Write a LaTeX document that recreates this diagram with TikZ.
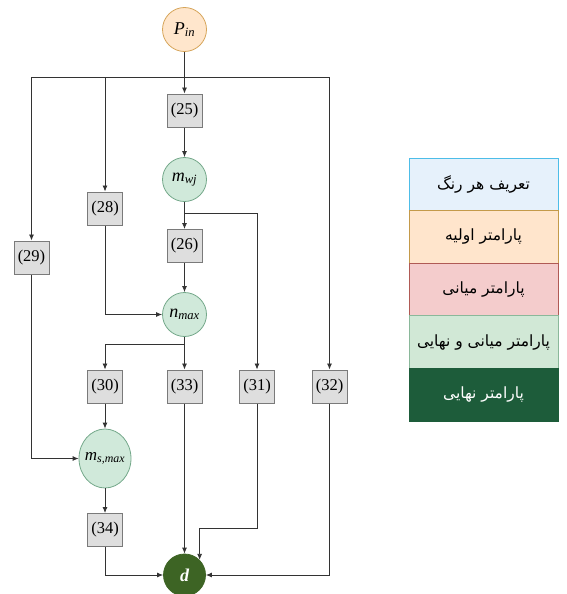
\documentclass[tikz,border=0pt]{standalone}
\usepackage{fontspec}
\setmainfont{Liberation Serif}
\newfontfamily\arabicfont[Script=Arabic]{DejaVu Sans}
\TeXXeTstate=1
\usetikzlibrary{arrows.meta,shapes.geometric}
\definecolor{boxfill}{HTML}{DEDEDE}
\definecolor{boxline}{HTML}{7A7A7A}
\definecolor{linec}{HTML}{333333}
\definecolor{orfill}{HTML}{FFE6CC}
\definecolor{orline}{HTML}{D6A55A}
\definecolor{grfill}{HTML}{D0E9DA}
\definecolor{grline}{HTML}{74A88A}
\definecolor{dkfill}{HTML}{3D6424}
\definecolor{l1fill}{HTML}{E6F1FB}
\definecolor{l1line}{HTML}{4DBDE8}
\definecolor{l2fill}{HTML}{FFE5CC}
\definecolor{l2line}{HTML}{C49A4A}
\definecolor{l3fill}{HTML}{F4CCCC}
\definecolor{l3line}{HTML}{B05A55}
\definecolor{l4fill}{HTML}{D1E8D6}
\definecolor{l4line}{HTML}{8AB89A}
\definecolor{l5fill}{HTML}{1D5C3A}
\tikzset{
  eqbox/.style={draw=boxline, fill=boxfill, line width=1pt, minimum width=35pt, minimum height=33pt, inner sep=0pt, font=\fontsize{16.5}{16.5}\selectfont},
  varc/.style={circle, draw=grline, fill=grfill, line width=0.8pt, minimum size=44pt, inner sep=0pt, font=\fontsize{18}{18}\selectfont\itshape},
  arr/.style={draw=linec, line width=0.8pt, -{Latex[length=6pt,width=5pt]}},
  legrow/.style={line width=0.8pt, minimum width=149pt, minimum height=52.6pt, inner sep=0pt, font=\arabicfont\fontsize{15.5}{15.5}\selectfont}
}
\begin{document}
\begin{tikzpicture}[x=1pt,y=-1pt]
\useasboundingbox (0,0) rectangle (567,594);
% nodes
\node[varc, draw=orline, fill=orfill] (pin) at (184.5,29.5) {P\textsubscript{in}};
\node[eqbox] (e25) at (184.5,110.5) {(25)};
\node[varc] (mwj) at (184.5,179.5) {m\textsubscript{wj}};
\node[eqbox] (e28) at (105,208.5) {(28)};
\node[eqbox] (e29) at (31.5,257.5) {(29)};
\node[eqbox] (e26) at (184.5,246) {(26)};
\node[varc] (nmax) at (184.5,314.5) {n\textsubscript{max}};
\node[eqbox] (e30) at (105,386.5) {(30)};
\node[eqbox] (e33) at (184.5,386.5) {(33)};
\node[eqbox] (e31) at (257,386.5) {(31)};
\node[eqbox] (e32) at (329.5,386.5) {(32)};
\node[varc, ellipse, inner xsep=-5pt, minimum width=52pt, minimum height=59pt, font=\fontsize{17}{17}\selectfont\itshape] (ms) at (105,458.5) {m\textsubscript{s,max}};
\node[eqbox] (e34) at (105,530) {(34)};
\node[varc, draw=dkfill, fill=dkfill, text=white, font=\fontsize{18}{18}\selectfont\bfseries\itshape, minimum size=42pt] (d) at (184.5,575) {d};
% junction coordinates
\coordinate (jtop) at (184.5,77);
\coordinate (jmwj) at (184.5,213);
\coordinate (jnmax) at (184.5,344);
\coordinate (j31) at (257,528);
% connectors
\draw[arr] (pin) -- (e25);
\draw[arr] (jtop) -| (e28.north);
\draw[arr] (jtop) -| (e29.north);
\draw[arr] (jtop) -| (e32.north);
\draw[arr] (e25) -- (mwj);
\draw[arr] (mwj) -- (e26);
\draw[arr] (jmwj) -| (e31.north);
\draw[arr] (e26) -- (nmax);
\draw[arr] (e28.south) |- (nmax.west);
\draw[arr] (nmax) -- (e33);
\draw[arr] (jnmax) -| (e30.north);
\draw[arr] (e30) -- (ms);
\draw[arr] (e29.south) |- (ms.west);
\draw[arr] (ms) -- (e34);
\draw[arr] (e34.south) |- (d.west);
\draw[arr] (e33) -- (d);
\draw[arr] (e31.south) -- (j31) -| (d.north east);
\draw[arr] (e32.south) |- (d.east);
% legend
\node[legrow, draw=l1line, fill=l1fill] (lg1) at (483.5,184.3) {\beginR تعریف هر رنگ\endR};
\node[legrow, draw=l2line, fill=l2fill] (lg2) at (483.5,236.9) {\beginR پارامتر اولیه\endR};
\node[legrow, draw=l3line, fill=l3fill] (lg3) at (483.5,289.5) {\beginR پارامتر میانی\endR};
\node[legrow, draw=l4line, fill=l4fill] (lg4) at (483.5,342.1) {\beginR پارامتر میانی و نهایی\endR};
\node[legrow, draw=l5fill, fill=l5fill, text=white] (lg5) at (483.5,394.7) {\beginR پارامتر نهایی\endR};
\end{tikzpicture}
\end{document}
